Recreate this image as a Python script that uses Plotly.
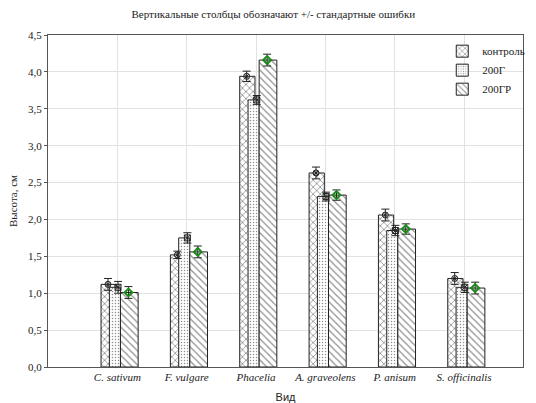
import plotly.graph_objects as go

species = ["C. sativum", "F. vulgare", "Phacelia", "A. graveolens", "P. anisum", "S. officinalis"]
series_names = ["контроль", "200Г", "200ГР"]

control_mean = [1.12, 1.52, 3.94, 2.63, 2.06, 1.20]
control_se = [0.08, 0.05, 0.07, 0.08, 0.08, 0.08]
g200_mean = [1.08, 1.75, 3.62, 2.31, 1.85, 1.08]
g200_se = [0.08, 0.07, 0.06, 0.06, 0.07, 0.07]
gr200_mean = [1.01, 1.56, 4.16, 2.33, 1.87, 1.07]
gr200_se = [0.08, 0.08, 0.08, 0.07, 0.07, 0.08]

y_ticks = [0, 0.5, 1.0, 1.5, 2.0, 2.5, 3.0, 3.5, 4.0, 4.5]
y_tick_text = ["0,0", "0,5", "1,0", "1,5", "2,0", "2,5", "3,0", "3,5", "4,0", "4,5"]

idx = list(range(len(species)))

# bar geometry (category units) and pattern per series
bar_style = [
    dict(offset=-0.235, width=0.22, shape="x", size=5, solidity=0.3),
    dict(offset=-0.115, width=0.16, shape=".", size=3, solidity=0.2),
    dict(offset=0.045, width=0.255, shape="\\", size=5, solidity=0.25),
]
# mean marker position and symbol per series
marker_style = [
    dict(dx=-0.135, symbol="circle-x-open", color="#222222", size=6, lw=1),
    dict(dx=0.01, symbol="square-x-open", color="#222222", size=6, lw=1),
    dict(dx=0.16, symbol="diamond-open", color="#1a8a1a", size=6, lw=2),
]

means = [control_mean, g200_mean, gr200_mean]
ses = [control_se, g200_se, gr200_se]

fig = go.Figure()

for name, m, bs in zip(series_names, means, bar_style):
    fig.add_trace(go.Bar(
        x=idx, y=m, name=name,
        offset=bs["offset"], width=bs["width"],
        marker=dict(
            color="white",
            line=dict(color="#222222", width=1),
            pattern=dict(shape=bs["shape"], fgcolor="#222222", bgcolor="white",
                         size=bs["size"], solidity=bs["solidity"]),
        ),
    ))

for name, m, s, ms in zip(series_names, means, ses, marker_style):
    fig.add_trace(go.Scatter(
        x=[i + ms["dx"] for i in idx], y=m, mode="markers", showlegend=False,
        marker=dict(symbol=ms["symbol"], size=ms["size"], color=ms["color"],
                    line=dict(color=ms["color"], width=ms["lw"])),
        error_y=dict(type="data", array=s, visible=True, color="#222222",
                     thickness=1, width=4),
    ))

serif = "Liberation Serif, Times New Roman, serif"

fig.update_layout(
    width=536, height=403,
    margin=dict(l=48, r=6, t=35, b=36),
    paper_bgcolor="white", plot_bgcolor="white",
    barmode="overlay",
    title=dict(text="Вертикальные столбцы обозначают +/- стандартные ошибки",
               x=0.51, xanchor="center", y=0.965, yanchor="middle",
               font=dict(family=serif, size=11, color="#222222")),
    font=dict(family=serif, size=11, color="#222222"),
    legend=dict(x=0.83, y=0.995, xanchor="left", yanchor="top",
                bgcolor="rgba(255,255,255,0)", borderwidth=0,
                font=dict(family=serif, size=11, color="#222222"),
                itemwidth=30, tracegroupgap=0),
    xaxis=dict(
        range=[-1, 5.85], tickvals=idx, ticktext=species,
        tickfont=dict(family=serif, size=11, style="italic"),
        showgrid=True, gridcolor="#e2e2e2", gridwidth=1,
        showline=True, linecolor="#555555", linewidth=1, mirror=True,
        ticks="", zeroline=False, automargin=False,
        title=dict(text="Вид", font=dict(family="Liberation Sans, Arial, sans-serif", size=11),
                   standoff=14),
    ),
    yaxis=dict(
        range=[0, 4.5], tickvals=y_ticks, ticktext=y_tick_text,
        tickfont=dict(family=serif, size=11),
        showgrid=True, gridcolor="#e2e2e2", gridwidth=1,
        showline=True, linecolor="#555555", linewidth=1, mirror=True,
        ticks="outside", ticklen=3, tickcolor="#555555", zeroline=False,
        automargin=False,
        title=dict(text="Высота, см", font=dict(family=serif, size=11), standoff=8),
    ),
)

fig.write_html("out.html")
